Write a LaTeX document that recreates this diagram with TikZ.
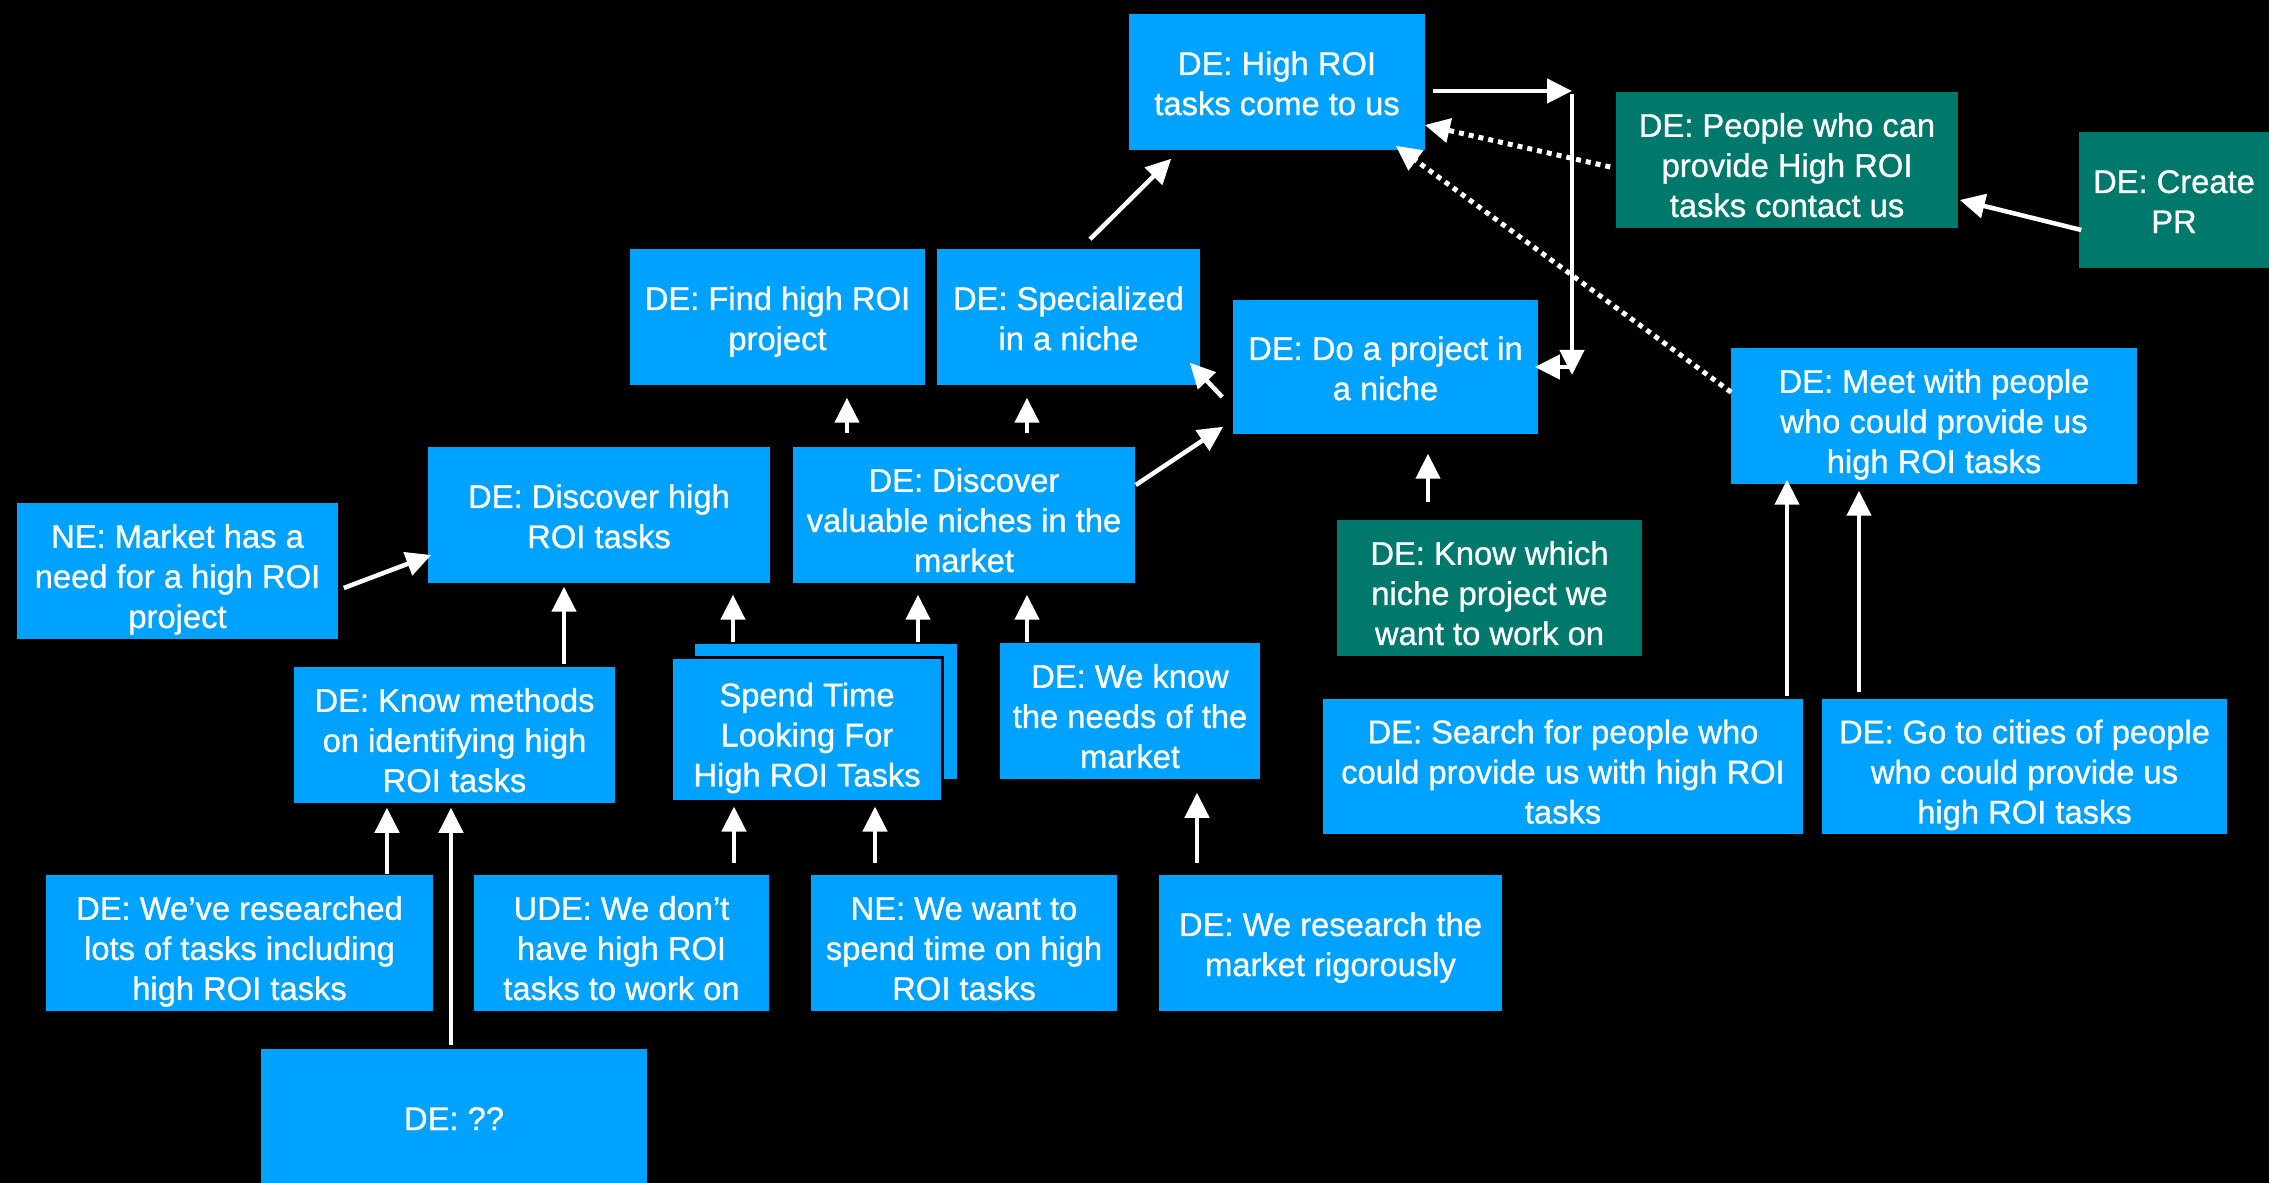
\documentclass[tikz,border=0pt]{standalone}
\usepackage{fontspec}
\setmainfont{Liberation Sans}[FakeBold=0.9]
\usetikzlibrary{arrows.meta}
\definecolor{boxblue}{RGB}{0,162,255}
\definecolor{boxteal}{RGB}{0,121,109}
% invisible struts that fix the height of the first and the depth of the last line
\newcommand\topstrut{\rule{0pt}{11.8pt}}
\newcommand\botstrut{\rule[-2.2pt]{0pt}{2.2pt}}
\newcommand\boxlines[1]{\topstrut#1\botstrut}
% shorter texts sit a little higher in their boxes
\newcommand\shorttopstrut{\rule{0pt}{10.8pt}}
\newcommand\shortbotstrut{\rule[-3.4pt]{0pt}{3.4pt}}
\newcommand\boxpair[1]{\shorttopstrut#1\shortbotstrut}

\begin{document}
\begin{tikzpicture}[x=0.01cm,y=-0.01cm,
  box/.style={fill=boxblue, text=white, inner sep=0pt, align=center,
    font=\fontsize{9.3}{11.4}\selectfont},
  tealbox/.style={box, fill=boxteal},
  sz/.style 2 args={minimum width=#1cm, minimum height=#2cm},
  arr/.style={draw=white, line width=0.045cm,
    -{Triangle[length=0.25cm,width=0.24cm]}},
  dots/.style={arr, line width=0.05cm, dash pattern=on 0.05cm off 0.05cm}]

\path[use as bounding box, fill=black] (0,0) rectangle (2269,1183);

% top row
\node[box, sz={2.96}{1.36}] (hiroi) at (1277,82) {\boxpair{DE: High ROI\\tasks come to us}};
\node[tealbox, sz={3.42}{1.36}] (contact) at (1787,160) {\boxlines{DE: People who can\\provide High ROI\\tasks contact us}};
\node[tealbox, sz={1.90}{1.36}] (pr) at (2174,200) {\boxpair{DE: Create\\PR}};

% second row
\node[box, sz={2.95}{1.36}] (find) at (777.5,317) {\boxpair{DE: Find high ROI\\project}};
\node[box, sz={2.63}{1.36}] (special) at (1068.5,317) {\boxpair{DE: Specialized\\in a niche}};
\node[box, sz={3.05}{1.34}] (doproj) at (1385.5,367) {\boxpair{DE: Do a project in\\a niche}};
\node[box, sz={4.06}{1.36}] (meet) at (1934,416) {\boxlines{DE: Meet with people\\who could provide us\\high ROI tasks}};

% third row
\node[box, sz={3.42}{1.36}] (dischi) at (599,515) {\boxpair{DE: Discover high\\ROI tasks}};
\node[box, sz={3.42}{1.36}] (disniche) at (964,515) {\boxlines{DE: Discover\\valuable niches in the\\market}};
\node[box, sz={3.21}{1.36}] (market) at (177.5,571) {\boxlines{NE: Market has a\\need for a high ROI\\project}};
\node[tealbox, sz={3.05}{1.36}] (which) at (1489.5,588) {\boxlines{DE: Know which\\niche project we\\want to work on}};

% fourth row
\node[box, sz={3.21}{1.36}] (methods) at (454.5,735) {\boxlines{DE: Know methods\\on identifying high\\ROI tasks}};
\node[box, sz={2.62}{1.35}] (spendback) at (826,711.5) {};
\node[box, draw=black, line width=0.03cm, sz={2.70}{1.43}] (spend) at (807,729.5) {\boxlines{Spend Time\\Looking For\\High ROI Tasks}};
\node[box, sz={2.60}{1.36}] (needs) at (1130,711) {\boxlines{DE: We know\\the needs of the\\market}};
\node[box, sz={4.80}{1.35}] (search) at (1563,766.5) {\boxlines{DE: Search for people who\\could provide us with high ROI\\tasks}};
\node[box, sz={4.05}{1.35}] (cities) at (2024.5,766.5) {\boxlines{DE: Go to cities of people\\who could provide us\\high ROI tasks}};

% bottom rows
\node[box, sz={3.87}{1.36}] (researched) at (239.5,943) {\boxlines{DE: We’ve researched\\lots of tasks including\\high ROI tasks}};
\node[box, sz={2.95}{1.36}] (ude) at (621.5,943) {\boxlines{UDE: We don’t\\have high ROI\\tasks to work on}};
\node[box, sz={3.06}{1.36}] (want) at (964,943) {\boxlines{NE: We want to\\spend time on high\\ROI tasks}};
\node[box, sz={3.43}{1.36}] (rigor) at (1330.5,943) {\boxpair{DE: We research the\\market rigorously}};
\node[box, sz={3.86}{1.36}] (qq) at (454,1117) {\boxpair{DE: ??}};

% bend points of the loop on the right of the top box
\coordinate (bendtop) at (1572,91);
\coordinate (bendbot) at (1572,375);

% connectors
\draw[arr] ([shift={(21.5,-9)}]special.north) -- ([shift={(43,8)}]hiroi.south west);
\draw[arr] ([shift={(7,9)}]hiroi.east) -- (bendtop);
\draw[arr] ([shift={(0,3)}]bendtop) -- (bendbot);
\draw[arr] ([shift={(0,-8)}]bendbot) -- ([shift={(-4,0)}]doproj.east);
\draw[dots] ([shift={(-5,7)}]contact.west) -- ([shift={(-1,43)}]hiroi.east);
\draw[dots] ([shift={(1,45)}]meet.north west) -- ([shift={(-30,-5)}]hiroi.south east);
\draw[arr] ([shift={(3,30)}]pr.west) -- ([shift={(1,40)}]contact.east);
\draw[arr] ([shift={(-10,30)}]doproj.west) -- ([shift={(-11,-23)}]special.south east);
\draw[arr] ([shift={(0,-30)}]disniche.east) -- ([shift={(-9,-8)}]doproj.south west);
\draw[arr] ([shift={(5,17)}]market.east) -- ([shift={(4,40)}]dischi.west);

\draw[arr] ([shift={(-117,-13)}]disniche.north) -- ([shift={(69.5,12)}]find.south);
\draw[arr] ([shift={(63,-13)}]disniche.north) -- ([shift={(-41.5,12)}]special.south);
\draw[arr] ([shift={(-61.5,-17)}]which.north) -- ([shift={(42.5,19)}]doproj.south);
\draw[arr] ([shift={(109.5,-2)}]methods.north) -- ([shift={(-35,3)}]dischi.south);
\draw[arr] ([shift={(-93,-1)}]spendback.north) -- ([shift={(134,11)}]dischi.south);
\draw[arr] ([shift={(92,-1)}]spendback.north) -- ([shift={(-46,11)}]disniche.south);
\draw[arr] ([shift={(-103,0)}]needs.north) -- ([shift={(63,11)}]disniche.south);
\draw[arr] ([shift={(147.5,0)}]researched.north) -- ([shift={(-67.5,4)}]methods.south);
\draw[arr] ([shift={(-3,-3)}]qq.north) -- ([shift={(-3.5,4)}]methods.south);
\draw[arr] ([shift={(112.5,-11)}]ude.north) -- ([shift={(-73,4)}]spend.south);
\draw[arr] ([shift={(-89,-11)}]want.north) -- ([shift={(68,4)}]spend.south);
\draw[arr] ([shift={(-133.5,-11)}]rigor.north) -- ([shift={(67,13)}]needs.south);
\draw[arr] ([shift={(224,-2)}]search.north) -- ([shift={(-147,-5)}]meet.south);
\draw[arr] ([shift={(-165.5,-6)}]cities.north) -- ([shift={(-75,6)}]meet.south);
\end{tikzpicture}
\end{document}
